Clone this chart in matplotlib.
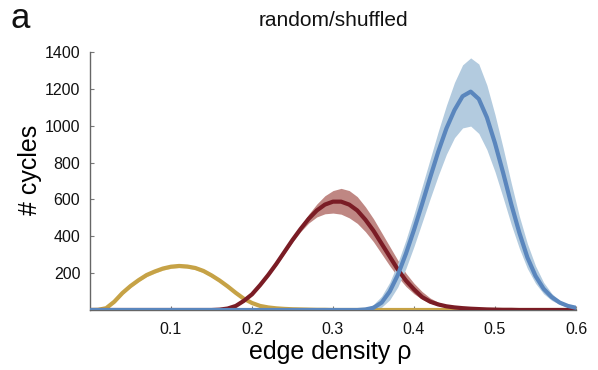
import numpy as np
import matplotlib
matplotlib.use("Agg")
import matplotlib.pyplot as plt

plt.rcParams['font.family'] = ['Liberation Sans', 'DejaVu Sans']

# edge density grid (0.00 .. 0.60 step 0.01)
density = [round(0.01 * i, 2) for i in range(61)]

yellow_mean = [0, 1, 10, 45, 92, 130, 162, 190, 209, 225, 235, 239, 236, 228, 212, 188, 160, 128, 93, 61,
               38, 22, 14, 9, 6, 4, 3, 2, 1, 1, 0, 0, 0, 0, 0, 0, 0, 0, 0, 0,
               0, 0, 0, 0, 0, 0, 0, 0, 0, 0, 0, 0, 0, 0, 0, 0, 0, 0, 0, 0, 0]
yellow_hi = [0, 1, 12, 50, 99, 138, 171, 199, 219, 235, 245, 249, 246, 238, 222, 198, 169, 136, 100, 67,
             43, 26, 16, 10, 7, 5, 3, 2, 1, 1, 0, 0, 0, 0, 0, 0, 0, 0, 0, 0,
             0, 0, 0, 0, 0, 0, 0, 0, 0, 0, 0, 0, 0, 0, 0, 0, 0, 0, 0, 0, 0]
yellow_lo = [0, 0, 8, 40, 85, 122, 154, 181, 200, 216, 226, 230, 227, 219, 203, 179, 152, 120, 87, 56,
             34, 19, 12, 8, 5, 3, 2, 1, 1, 0, 0, 0, 0, 0, 0, 0, 0, 0, 0, 0,
             0, 0, 0, 0, 0, 0, 0, 0, 0, 0, 0, 0, 0, 0, 0, 0, 0, 0, 0, 0, 0]

red_mean = [0, 0, 0, 0, 0, 0, 0, 0, 0, 0, 0, 0, 0, 0, 0, 0, 2, 8, 22, 50,
            85, 135, 190, 250, 315, 380, 440, 495, 540, 572, 588, 588, 572, 540, 490, 430, 360, 290, 220, 160,
            112, 70, 45, 30, 20, 14, 10, 7, 5, 3, 2, 1, 1, 0, 0, 0, 0, 0, 0, 0, 0]
red_hi = [0, 0, 0, 0, 0, 0, 0, 0, 0, 0, 0, 0, 0, 0, 0, 0, 3, 10, 25, 54,
          90, 141, 197, 258, 325, 392, 455, 520, 575, 620, 648, 660, 648, 615, 560, 495, 420, 345, 270, 200,
          145, 100, 65, 42, 28, 20, 14, 10, 7, 5, 3, 2, 1, 1, 0, 0, 0, 0, 0, 0, 0]
red_lo = [0, 0, 0, 0, 0, 0, 0, 0, 0, 0, 0, 0, 0, 0, 0, 0, 1, 6, 19, 46,
          80, 129, 183, 242, 305, 368, 425, 472, 505, 522, 526, 520, 500, 470, 425, 370, 305, 240, 180, 128,
          88, 58, 37, 24, 16, 11, 7, 5, 3, 2, 1, 1, 0, 0, 0, 0, 0, 0, 0, 0, 0]

blue_mean = [0, 0, 0, 0, 0, 0, 0, 0, 0, 0, 0, 0, 0, 0, 0, 0, 0, 0, 0, 0,
             0, 0, 0, 0, 0, 0, 0, 0, 0, 0, 0, 0, 0, 0, 3, 12, 40, 100, 190, 305,
             435, 575, 720, 860, 985, 1085, 1160, 1185, 1145, 1045, 905, 745, 575, 420, 285, 185, 115, 70, 40, 22, 12]
blue_hi = [0, 0, 0, 0, 0, 0, 0, 0, 0, 0, 0, 0, 0, 0, 0, 0, 0, 0, 0, 0,
           0, 0, 0, 0, 0, 0, 0, 0, 0, 0, 0, 0, 0, 2, 8, 30, 75, 150, 255, 380,
           520, 670, 820, 970, 1110, 1235, 1330, 1368, 1335, 1220, 1060, 880, 690, 510, 360, 240, 150, 90, 50, 28, 15]
blue_lo = [0, 0, 0, 0, 0, 0, 0, 0, 0, 0, 0, 0, 0, 0, 0, 0, 0, 0, 0, 0,
           0, 0, 0, 0, 0, 0, 0, 0, 0, 0, 0, 0, 0, 0, 0, 2, 15, 55, 125, 225,
           345, 475, 605, 730, 845, 935, 988, 998, 958, 870, 750, 610, 465, 335, 225, 145, 88, 52, 30, 16, 8]

x_ticks = [0.1, 0.2, 0.3, 0.4, 0.5, 0.6]
y_ticks = [200, 400, 600, 800, 1000, 1200, 1400]

fig = plt.figure(figsize=(5.98, 3.70), dpi=100)
ax = fig.add_axes([90 / 598, 1 - 310 / 370, (576 - 90) / 598, (310 - 52) / 370])

series = [
    (yellow_mean, yellow_lo, yellow_hi, '#C6A246', '#E6D39C'),
    (red_mean, red_lo, red_hi, '#7A1C25', '#BF8783'),
    (blue_mean, blue_lo, blue_hi, '#5A86BD', '#B3CBDF'),
]
for mean, lo, hi, lc, bc in series:
    ax.fill_between(density, lo, hi, color=bc, linewidth=0, zorder=2)
for mean, lo, hi, lc, bc in series:
    ax.plot(density, mean, color=lc, linewidth=3, solid_joinstyle='round', zorder=3)

ax.set_xlim(0, 0.6)
ax.set_ylim(0, 1400)
ax.set_xticks(x_ticks)
ax.set_xticklabels([f"{v:.1f}" for v in x_ticks])
ax.set_yticks(y_ticks)
ax.set_yticklabels([str(v) for v in y_ticks])
ax.tick_params(direction='in', length=3, width=0.8, color='#777777', labelsize=11.5, pad=7,
               labelcolor='#111111')
ax.tick_params(axis='x', pad=9)
for s in ['top', 'right']:
    ax.spines[s].set_visible(False)
ax.spines['left'].set_color('#666666')
ax.spines['left'].set_linewidth(1.0)
ax.spines['bottom'].set_color('#666666')
ax.spines['bottom'].set_linewidth(1.0)
ax.patch.set_alpha(0)

fig.text(333 / 598, 1 - 20 / 370, 'random/shuffled', ha='center', va='center', fontsize=15, color='#111111')
fig.text(10 / 598, 1 - 19 / 370, 'a', ha='left', va='center', fontsize=25, color='#111111')
fig.text(30 / 598, 1 - 170 / 370, '# cycles', ha='center', va='center', rotation=90, fontsize=18, color='#000000')
fig.text(330 / 598, 1 - 352 / 370, 'edge density ρ', ha='center', va='center', fontsize=18, color='#000000')

fig.savefig('out.png', dpi=100)
